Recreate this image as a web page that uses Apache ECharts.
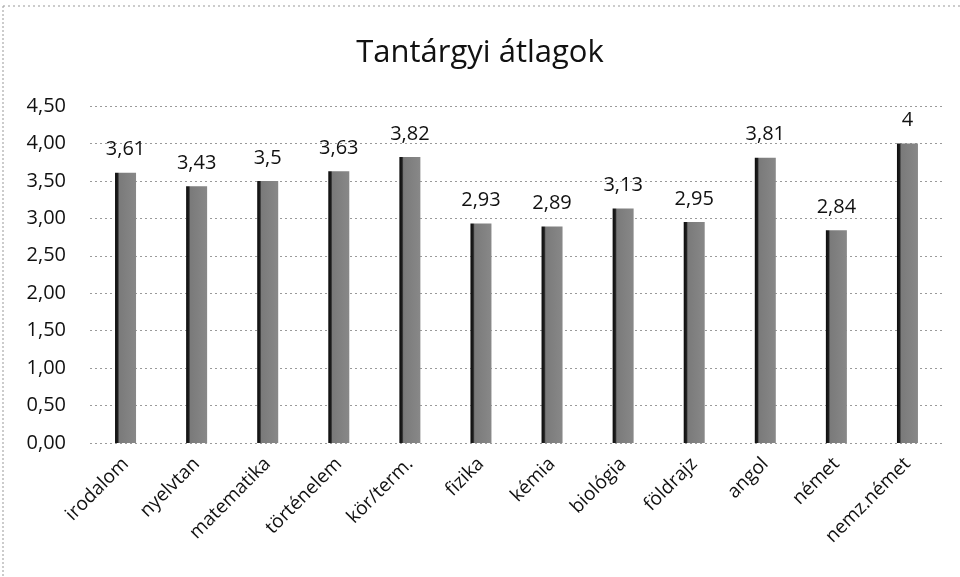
<!DOCTYPE html>
<html>
<head>
<meta charset="utf-8">
<script src="https://cdn.jsdelivr.net/npm/echarts@6/dist/echarts.min.js"></script>
<style>
	html, body { margin: 0; padding: 0; background: #fff; }
	#chart { width: 960px; height: 577px; }
</style>
</head>
<body>
<div id="chart"></div>
<script>
	var subjects = [ 'irodalom', 'nyelvtan', 'matematika', 'történelem', 'kör/term.', 'fizika',
		'kémia', 'biológia', 'földrajz', 'angol', 'német', 'nemz.német' ];
	var averages = [ 3.61, 3.43, 3.5, 3.63, 3.82, 2.93, 2.89, 3.13, 2.95, 3.81, 2.84, 4 ];
	var yTicks = [ 0, 0.5, 1, 1.5, 2, 2.5, 3, 3.5, 4, 4.5 ];

	var font = 'Open Sans';
	var chart = echarts.init(document.getElementById('chart'));
	var option = {
		backgroundColor : '#ffffff',
		animation : false,
		title : {
			text : 'Tantárgyi átlagok',
			left : 'center',
			top : 33,
			textStyle : {
				fontFamily : font,
				fontWeight : 'normal',
				fontSize : 31,
				color : '#111'
			}
		},
		grid : {
			left : 90,
			right : 17,
			top : 106,
			bottom : 134
		},
		xAxis : {
			type : 'category',
			data : subjects,
			axisLine : { show : false },
			axisTick : { show : false },
			axisLabel : {
				rotate : 45,
				interval : 0,
				margin : 18,
				fontFamily : font,
				fontSize : 19,
				color : '#111'
			}
		},
		yAxis : {
			type : 'value',
			min : yTicks[0],
			max : yTicks[yTicks.length - 1],
			interval : 0.5,
			axisLine : { show : false },
			axisTick : { show : false },
			axisLabel : {
				margin : 24,
				fontFamily : font,
				fontSize : 20,
				color : '#111',
				formatter : function(v) {
					return v.toFixed(2).replace('.', ',');
				}
			},
			splitLine : {
				lineStyle : { color : '#9a9a9a', type : [ 2, 3 ], width : 1 }
			}
		},
		series : [ {
			type : 'bar',
			data : averages,
			barWidth : 21,
			itemStyle : {
				color : new echarts.graphic.LinearGradient(0, 0, 1, 0, [
					{ offset : 0, color : '#0d0d0d' },
					{ offset : 0.13, color : '#1e1e1e' },
					{ offset : 0.2, color : '#7a7a7a' },
					{ offset : 1, color : '#888888' } ])
			},
			label : {
				show : true,
				position : 'top',
				distance : 13,
				fontFamily : font,
				fontSize : 20,
				color : '#111',
				formatter : function(p) {
					return String(p.value).replace('.', ',');
				}
			}
		} ],
		graphic : [ {
			type : 'line',
			shape : { x1 : 3, y1 : 6, x2 : 960, y2 : 6 },
			style : { stroke : '#999', lineWidth : 1, lineDash : [ 2, 3 ] }
		}, {
			type : 'line',
			shape : { x1 : 3, y1 : 6, x2 : 3, y2 : 577 },
			style : { stroke : '#999', lineWidth : 1, lineDash : [ 2, 2 ] }
		} ]
	};
	chart.setOption(option);
</script>
</body>
</html>
